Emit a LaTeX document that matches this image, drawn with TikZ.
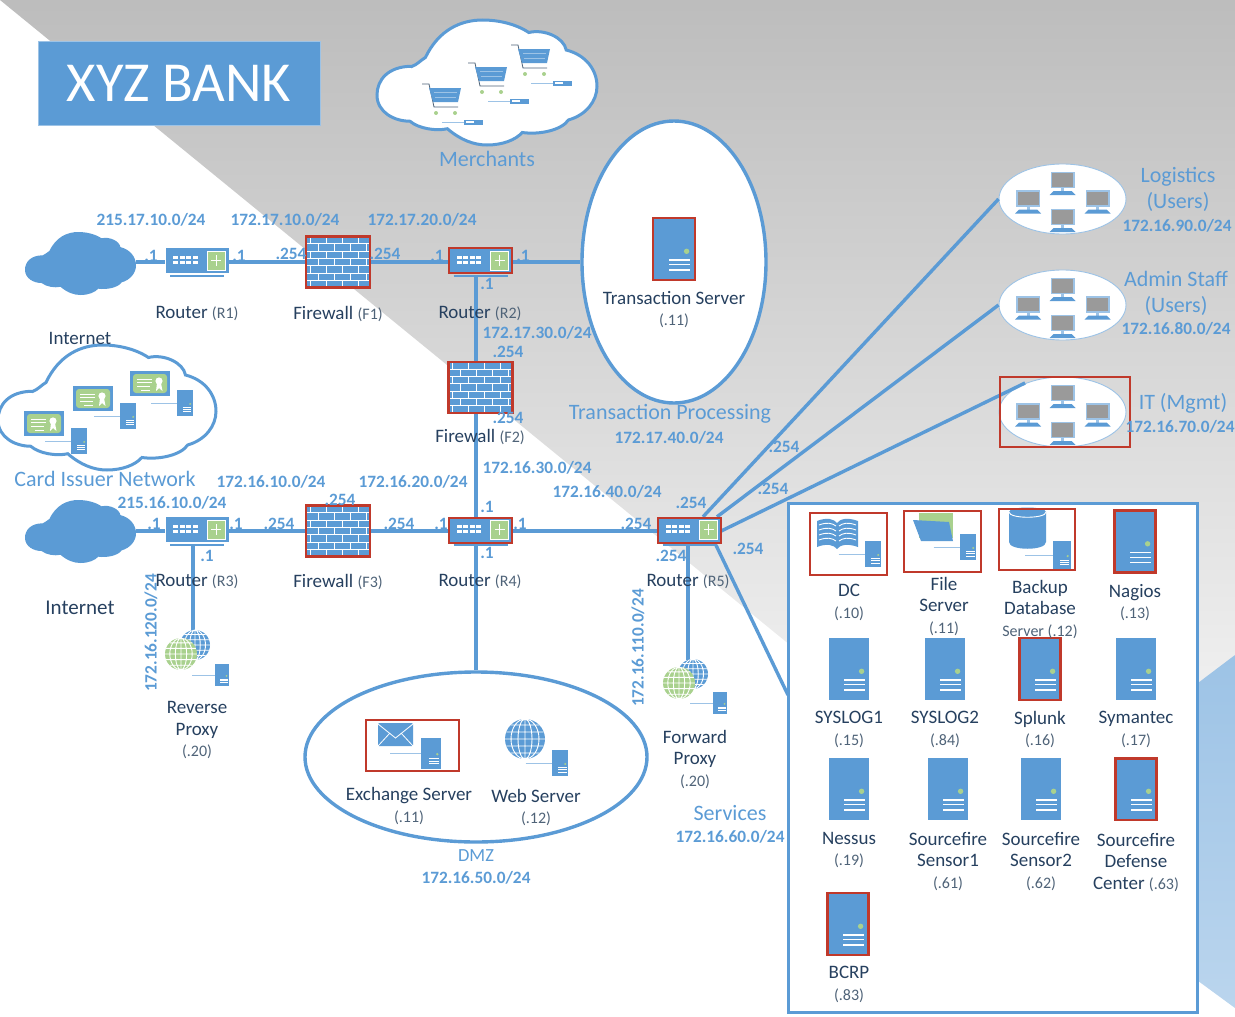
\documentclass[tikz,border=0pt]{standalone}
\usepackage{fontspec}
\setmainfont{Carlito}
\usetikzlibrary{shapes.geometric}
\definecolor{cBlue}{HTML}{5B9BD5}
\definecolor{cLight}{HTML}{9DC3E6}
\definecolor{cRed}{HTML}{C0392B}
\definecolor{cGreen}{HTML}{A9D18E}
\definecolor{cDark}{HTML}{26405F}
\definecolor{cSlate}{HTML}{4F6378}
\definecolor{cScreen}{HTML}{9A9A9A}
\newcommand{\addr}[1]{{\fontsize{16}{16}\selectfont\color{cSlate}#1}}
\newcommand{\serverbody}{
    \fill[cBlue] (-20,-31) rectangle (20,31);
    \fill[cGreen] (12.6,2.3) circle (2.7);
    \foreach \k in {11,15.7,21}
        \fill[white] (-5,\k-0.7) rectangle (15.7,\k+0.7);
}
\tikzset{
    blueline/.style={cBlue, line width=3.4pt},
    redline/.style={cRed, line width=2.6pt},
    iplab/.style={text=cBlue, font=\fontsize{17.3}{20}\selectfont\bfseries, inner sep=0pt},
    hostlab/.style={text=cDark, align=center, font=\fontsize{19}{21.5}\selectfont, inner sep=0pt, yshift=-1pt},
    netlab/.style={text=cBlue, align=center, font=\fontsize{22}{26}\selectfont, inner sep=0pt},
    ringnode/.style={ellipse, draw=cBlue, line width=3.4pt, fill=white, inner sep=0pt},
    usersnode/.style={ellipse, draw=cLight, line width=0.9pt, fill=white, minimum width=127pt, minimum height=70pt, inner sep=0pt},
    routernode/.style={minimum width=63pt, minimum height=28pt, inner sep=0pt},
    wallnode/.style={minimum width=64pt, minimum height=51pt, inner sep=0pt},
    pics/routerpic/.style={code={
        \fill[cBlue] (-31.5,-14) rectangle (31.5,11);
        \foreach \k in {-24,-17.5,-11,-4.5} {
            \fill[white] (\k,-6) rectangle ++(5,2.8);
            \fill[white] (\k,-1) rectangle ++(5,2.8);
        }
        \draw[white, line width=0.7pt, fill=cGreen] (10,-11) rectangle (28,8);
        \draw[white, line width=0.8pt] (14,-1.5) -- (24,-1.5) (19,-7) -- (19,4);
        \draw[cBlue, line width=1.5pt] (-27,14) -- (27,14);
    }},
    pics/wallpic/.style={code={
        \fill[cBlue] (-32,-25.5) rectangle (32,25.5);
        \foreach \r in {0,...,6} {
            \draw[white, line width=1pt] (-32,{-25.5+\r*7.3}) -- (32,{-25.5+\r*7.3});
            \foreach \c in {0,...,3}
                \draw[white, line width=1pt] ({-28+\c*16+mod(\r,2)*8},{-25.5+\r*7.3}) -- ++(0,7.3);
        }
        \draw[redline] (-32,-25.5) rectangle (32,25.5);
    }},
    pics/cloudpic/.style={code={
        \path[pic actions] (16,37) .. controls (5,37) and (0,48) .. (0,60)
            .. controls (0,74) and (8,81) .. (15,81)
            .. controls (19,87) and (27,89) .. (32,87)
            .. controls (38,96) and (44,100) .. (50,100)
            .. controls (57,100) and (63,96) .. (66,90)
            .. controls (74,92) and (84,88) .. (87,80)
            .. controls (95,76) and (100,65) .. (100,53)
            .. controls (100,40) and (95,28) .. (86,24)
            .. controls (85,14) and (76,7) .. (69,10)
            .. controls (63,3) and (55,0) .. (48,0)
            .. controls (38,0) and (28,8) .. (22,30)
            .. controls (20,32) and (18,36) .. cycle;
    }},
    pics/serverpic/.style={code={\serverbody}},
    pics/miniserver/.style={code={
        \draw[cLight, line width=0.9pt] (-82,0) -- (-20,0);
        \serverbody
    }},
    pics/globepic/.style={code={
        \fill[#1] (0,0) circle (20);
        \draw[white, line width=0.9pt] (0,0) ellipse (7 and 20) (0,0) ellipse (14 and 20) (0,-20) -- (0,20)
            (-20,0) -- (20,0) (-18.7,-7) -- (18.7,-7) (-18.7,7) -- (18.7,7) (-14.3,-14) -- (14.3,-14) (-14.3,14) -- (14.3,14);
    }},
    pics/certpic/.style={code={
        \fill[cBlue] (0,0) rectangle (40,25);
        \fill[cGreen, rounded corners=3pt] (3,3) rectangle (37,22);
        \draw[white, line width=0.7pt] (7,8) -- (22,8) (7,11.5) -- (22,11.5) (7,15) -- (20,15) (11,19) -- (20,19);
        \fill[white] (29,10) circle (3.6) (27,12) -- (31,12) -- (32.5,20) -- (29,17) -- (26,20) -- cycle;
    }},
    pics/cartpic/.style={code={
        \draw[cSlate, line width=0.8pt] (0,0) -- (7,0) -- (12,23) -- (36,23);
        \fill[cBlue] (7,4) -- (39,4) -- (36,18) -- (11,18) -- cycle;
        \draw[cLight, line width=0.7pt] (12,8) -- (35,8) (13,13) -- (34,13);
        \fill[cGreen] (14,29) circle (2) (33,29) circle (2);
        \draw[cLight, line width=0.9pt] (20,38) -- (42,38);
        \fill[cBlue] (42,35.5) rectangle (61,40.5);
        \fill[white] (44,37) rectangle (52,39);
    }},
    pics/pcpic/.style={code={
        \fill[cLight] (-12,-8.5) rectangle (12,8);
        \fill[cScreen] (-10.5,-7) rectangle (10.5,6.5);
        \fill[cLight] (-1.5,8) rectangle (1.5,11);
        \fill[cBlue] (-9,11) -- (9,11) -- (13,15) -- (-13,15) -- cycle;
    }},
    pics/pcgroup/.style={code={
        \pic at (-34.5,-0.5) {pcpic};
        \pic at (35,-0.5) {pcpic};
        \pic at (0,-19) {pcpic};
        \pic at (0,18) {pcpic};
    }},
}

\begin{document}
\begin{tikzpicture}[x=1pt, y=-1pt]
    \useasboundingbox (0,0) rectangle (1235,1017);
    \shade[top color=black!26, bottom color=black!6] (0,0) -- (1235,0) -- (1235,655) -- (1190,695) -- (790,645) -- cycle;
    \shade[top color=cBlue!60, bottom color=cLight!70] (1235,655) -- (1190,689) -- (1190,975) -- (1235,1008) -- cycle;

    \node[fill=cBlue, draw=cLight, line width=0.8pt, text=white, font=\fontsize{56.5}{60}\selectfont, minimum width=282pt, minimum height=84pt] (bank) at (179,83) {XYZ BANK};

    \pic[draw=cBlue, fill=white, line width=3pt, xscale=2.2, yscale=1.25] at (377,20) {cloudpic};
    \pic at (422,84) {cartpic};
    \pic at (468,63) {cartpic};
    \pic at (511,45) {cartpic};

    \pic[draw=cBlue, fill=white, line width=3pt, xscale=2.18, yscale=1.25] at (-2,345) {cloudpic};
    \pic at (24,411) {certpic};
    \pic[scale=0.41] at (79,441) {miniserver};
    \pic at (73,386) {certpic};
    \pic[scale=0.41] at (128,416) {miniserver};
    \pic at (130,371) {certpic};
    \pic[scale=0.41] at (185,403) {miniserver};

    \pic[fill=cBlue, xscale=1.11, yscale=0.63] at (25,232) {cloudpic};
    \pic[fill=cBlue, xscale=1.11, yscale=0.63] at (25,500) {cloudpic};
    \node[minimum width=111pt, minimum height=40pt, inner sep=0pt] (net1) at (80.5,262) {};
    \node[minimum width=111pt, minimum height=40pt, inner sep=0pt] (net2) at (80.5,531) {};

    \node[routernode] (R1) at (197,262) {};
    \node[routernode] (R2) at (480.5,262) {};
    \node[routernode] (R3) at (197,531) {};
    \node[routernode] (R4) at (480.5,531) {};
    \node[routernode] (R5) at (689.5,531) {};
    \node[wallnode] (F1) at (338,262) {};
    \node[wallnode] (F2) at (480.5,387.5) {};
    \node[wallnode] (F3) at (338,531) {};

    \node[ringnode, minimum width=184pt, minimum height=282pt] (trans) at (674,262) {};
    \node[ringnode, minimum width=342pt, minimum height=170pt] (dmz) at (476,757) {};
    \node[usersnode] (U1) at (1062.5,199) {};
    \node[usersnode] (U2) at (1062.5,305) {};
    \node[usersnode] (U3) at (1062.5,412) {};
    \node[draw=cBlue, line width=3pt, fill=white, minimum width=409pt, minimum height=509pt, inner sep=0pt] (svc) at (992.5,757.5) {};
    \node[minimum width=30pt, minimum height=30pt, inner sep=0pt] (revp) at (193,655) {};
    \node[minimum width=30pt, minimum height=30pt, inner sep=0pt] (forp) at (688,675) {};
    \coordinate (itEnd) at (1025,383);
    \coordinate (svcIn) at (788,695);

    \draw[blueline] (net1) -- (R1);
    \draw[blueline] (R1) -- (F1);
    \draw[blueline] (F1) -- (R2);
    \draw[blueline] (R2) -- (trans.west);
    \draw[blueline] ([xshift=-4.5pt]R2.south) -- ([xshift=-4.5pt]F2.north);
    \draw[blueline] ([xshift=-4.5pt]F2.south) -- ([xshift=-4.5pt]R4.north);
    \draw[blueline] ([xshift=-4.5pt]R4.south) -- (dmz.north);
    \draw[blueline] (net2) -- (R3);
    \draw[blueline] (R3) -- (F3);
    \draw[blueline] (F3) -- (R4);
    \draw[blueline] (R4) -- (R5);
    \draw[blueline] ([xshift=-4pt]R3.south) -- (revp.north);
    \draw[blueline] ([xshift=-1.5pt]R5.south) -- (forp.north);
    \draw[blueline] ([xshift=13.5pt]R5.north) -- (U1.west);
    \draw[blueline] ([xshift=27.5pt]R5.north) -- (U2.west);
    \draw[blueline] (R5.east) -- (itEnd);
    \draw[blueline] ([xshift=26.5pt]R5.south) -- (svcIn);

    \pic at (R1) {routerpic};
    \pic at (R2) {routerpic};
    \pic at (R3) {routerpic};
    \pic at (R4) {routerpic};
    \pic at (R5) {routerpic};
    \pic at (F1) {wallpic};
    \pic at (F2) {wallpic};
    \pic at (F3) {wallpic};
    \draw[redline] (449,248) rectangle (512,273);
    \draw[redline] (449,518) rectangle (512,543);
    \draw[redline] (658,518) rectangle (721,543);

    \pic at (U1) {pcgroup};
    \pic at (U2) {pcgroup};
    \pic at (U3) {pcgroup};
    \draw[redline] (1000,377) rectangle (1130,447);

    \pic at (674,249) {serverpic};
    \draw[redline] (653,218) rectangle (695,280);

    \pic[scale=0.75] at (195,645) {globepic={cBlue}};
    \pic[scale=0.8] at (181,654) {globepic={cGreen}};
    \pic[scale=0.36] at (222,675) {miniserver};
    \pic[scale=0.75] at (693,674) {globepic={cBlue}};
    \pic[scale=0.8] at (679,683) {globepic={cGreen}};
    \pic[scale=0.36] at (720,703) {miniserver};

    \fill[cBlue, rounded corners=1pt] (378,723) rectangle (413,746);
    \draw[white, line width=0.8pt] (378,724) -- (395.5,738) -- (413,724) (378,746) -- (390,733) (413,746) -- (401,733);
    \pic[scale=0.5] at (431,753) {miniserver};
    \draw[redline] (366,720) rectangle (459,771);
    \pic at (525,739) {globepic={cBlue}};
    \pic[scale=0.42] at (560,763) {miniserver};

    \fill[cBlue] (817,521) .. controls (827,517) and (834,519) .. (837,523) .. controls (840,519) and (847,517) .. (858,521) -- (858,547) .. controls (847,543) and (840,545) .. (837,549) .. controls (834,545) and (827,543) .. (817,547) -- cycle;
    \foreach \k in {525,530,535,540} {
        \draw[white, line width=0.9pt] (819,\k) .. controls (827,\k-3) and (832,\k-2) .. (836,\k+1);
        \draw[white, line width=0.9pt] (839,\k+1) .. controls (843,\k-2) and (848,\k-3) .. (856,\k);
    }
    \pic[scale=0.42] at (873,554) {miniserver};
    \draw[redline] (810,513) rectangle (887,575);

    \fill[cGreen] (919,513) rectangle (953,538);
    \fill[cBlue] (913,520) -- (949,522) -- (953,541) -- (921,541) -- cycle;
    \pic[scale=0.42] at (968,547) {miniserver};
    \draw[redline] (904,511) rectangle (981,572);

    \fill[cBlue] (1009,512) .. controls (1009,506) and (1046,506) .. (1046,512) -- (1046,542) .. controls (1046,551) and (1009,551) .. (1009,542) -- cycle;
    \draw[white, line width=0.9pt] (1009,512) .. controls (1009,519) and (1046,519) .. (1046,512);
    \pic[scale=0.45] at (1062,555) {miniserver};
    \draw[redline] (999,509) rectangle (1075,570);

    \pic at (1135,541.5) {serverpic};
    \draw[redline] (1114.5,510.5) rectangle (1155.5,572.5);
    \pic at (849,669) {serverpic};
    \pic at (945,669) {serverpic};
    \pic at (1040,669) {serverpic};
    \draw[redline] (1019.5,638) rectangle (1060.5,700);
    \pic at (1136,669) {serverpic};
    \pic at (849,789) {serverpic};
    \pic at (948,789) {serverpic};
    \pic at (1041,789) {serverpic};
    \pic at (1136,789) {serverpic};
    \draw[redline] (1115.5,758.5) rectangle (1156.5,820);
    \pic at (848,924) {serverpic};
    \draw[redline] (827.5,893) rectangle (868.5,955);

    \node[iplab] (ipA) at (151,220) {215.17.10.0/24};
    \node[iplab] (ipB) at (285,220) {172.17.10.0/24};
    \node[iplab] (ipC) at (422,220) {172.17.20.0/24};
    \node[iplab] (ipD) at (537,333) {172.17.30.0/24};
    \node[iplab] (ipE) at (537,468) {172.16.30.0/24};
    \node[iplab] (ipF) at (271,482) {172.16.10.0/24};
    \node[iplab] (ipG) at (413,482) {172.16.20.0/24};
    \node[iplab] (ipH) at (172,503) {215.16.10.0/24};
    \node[iplab] (ipI) at (607,492) {172.16.40.0/24};
    \node[iplab] (ipJ) at (669,438) {172.17.40.0/24};
    \node[iplab] (ipK) at (730,837) {172.16.60.0/24};
    \node[iplab] (ipL) at (476,878) {172.16.50.0/24};
    \node[iplab] (ipM) at (1177,226) {172.16.90.0/24};
    \node[iplab] (ipN) at (1176,329) {172.16.80.0/24};
    \node[iplab] (ipO) at (1180,427) {172.16.70.0/24};
    \node[iplab, rotate=90] (ipP) at (151,633) {172.16.120.0/24};
    \node[iplab, rotate=90] (ipQ) at (638,648) {172.16.110.0/24};

    \node[iplab] (ifA) at (151,256) {.1};
    \node[iplab] (ifB) at (239,256) {.1};
    \node[iplab] (ifC) at (291,254) {.254};
    \node[iplab] (ifD) at (385,254) {.254};
    \node[iplab] (ifE) at (437,256) {.1};
    \node[iplab] (ifF) at (523,256) {.1};
    \node[iplab] (ifG) at (487,284) {.1};
    \node[iplab] (ifH) at (508,352) {.254};
    \node[iplab] (ifI) at (508,418) {.254};
    \node[iplab] (ifJ) at (487,507) {.1};
    \node[iplab] (ifK) at (340,500) {.254};
    \node[iplab] (ifL) at (154,524) {.1};
    \node[iplab] (ifM) at (236,524) {.1};
    \node[iplab] (ifN) at (279,524) {.254};
    \node[iplab] (ifO) at (399,524) {.254};
    \node[iplab] (ifP) at (441,524) {.1};
    \node[iplab] (ifQ) at (520,524) {.1};
    \node[iplab] (ifR) at (636,524) {.254};
    \node[iplab] (ifS) at (691,503) {.254};
    \node[iplab] (ifT) at (784,447) {.254};
    \node[iplab] (ifU) at (773,489) {.254};
    \node[iplab] (ifV) at (748,549) {.254};
    \node[iplab] (ifW) at (671,556) {.254};
    \node[iplab] (ifX) at (207,556) {.1};
    \node[iplab] (ifY) at (487,553) {.1};

    \node[hostlab] (lR1) at (197,313) {Router \addr{(R1)}};
    \node[hostlab] (lF1) at (338,313) {Firewall \addr{(F1)}};
    \node[hostlab] (lR2) at (480,313) {Router \addr{(R2)}};
    \node[hostlab] (lF2) at (480,436) {Firewall \addr{(F2)}};
    \node[hostlab] (lR3) at (197,581) {Router \addr{(R3)}};
    \node[hostlab] (lF3) at (338,581) {Firewall \addr{(F3)}};
    \node[hostlab] (lR4) at (480,581) {Router \addr{(R4)}};
    \node[hostlab] (lR5) at (688,581) {Router \addr{(R5)}};
    \node[hostlab] (lInA) at (80,337) {Internet};
    \node[hostlab, font=\fontsize{21}{24}\selectfont] (lInB) at (80,607) {Internet};
    \node[hostlab] (lRev) at (197,729.5) {Reverse\\Proxy\\\addr{(.20)}};
    \node[hostlab] (lFor) at (695,758.5) {Forward\\Proxy\\\addr{(.20)}};
    \node[hostlab] (lTra) at (674,308.5) {Transaction Server\\\addr{(.11)}};
    \node[hostlab] (lExc) at (409,805) {Exchange Server\\\addr{(.11)}};
    \node[hostlab] (lWeb) at (536,806.5) {Web Server\\\addr{(.12)}};

    \node[hostlab] (lDC) at (849,601.5) {DC\\\addr{(.10)}};
    \node[hostlab] (lFile) at (944,605.5) {File\\Server\\\addr{(.11)}};
    \node[hostlab] (lBack) at (1040,608.5) {Backup\\Database\\\addr{Server (.12)}};
    \node[hostlab] (lNag) at (1135,601.5) {Nagios\\\addr{(.13)}};
    \node[hostlab] (lSysA) at (849,728.5) {SYSLOG1\\\addr{(.15)}};
    \node[hostlab] (lSysB) at (945,728.5) {SYSLOG2\\\addr{(.84)}};
    \node[hostlab] (lSpl) at (1040,728.5) {Splunk\\\addr{(.16)}};
    \node[hostlab] (lSym) at (1136,728.5) {Symantec\\\addr{(.17)}};
    \node[hostlab] (lNes) at (849,849) {Nessus\\\addr{(.19)}};
    \node[hostlab] (lSrcA) at (948,860.5) {Sourcefire\\Sensor1\\\addr{(.61)}};
    \node[hostlab] (lSrcB) at (1041,860.5) {Sourcefire\\Sensor2\\\addr{(.62)}};
    \node[hostlab] (lSrcC) at (1136,861.5) {Sourcefire\\Defense\\Center \addr{(.63)}};
    \node[hostlab] (lBcr) at (849,983.5) {BCRP\\\addr{(.83)}};

    \node[netlab] (nMer) at (487,159) {Merchants};
    \node[netlab] (nCard) at (105,479) {Card Issuer Network};
    \node[netlab] (nTra) at (670,414) {Transaction Processing};
    \node[netlab] (nSvc) at (730,813) {Services};
    \node[netlab, font=\fontsize{18.5}{22}\selectfont] (nDmz) at (476,856) {DMZ};
    \node[netlab] (nLog) at (1178,189.5) {Logistics\\(Users)};
    \node[netlab] (nAdm) at (1176,293.5) {Admin Staff\\(Users)};
    \node[netlab] (nIT) at (1183,403) {IT (Mgmt)};
\end{tikzpicture}
\end{document}
